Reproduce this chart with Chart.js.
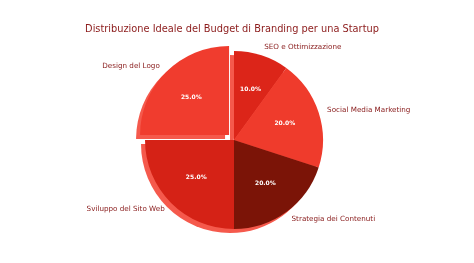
<!DOCTYPE html>
<html>
<head>
<meta charset="utf-8">
<script src="https://cdn.jsdelivr.net/npm/chart.js@4/dist/chart.umd.min.js"></script>
<style>
  html, body { margin: 0; padding: 0; background: #fff; }
  #wrap { width: 474px; height: 263px; position: relative; }
</style>
</head>
<body>
<div id="wrap"><canvas id="budgetChart"></canvas></div>
<script>
// Data (clockwise from 12 o'clock)
const categories = ['SEO e Ottimizzazione', 'Social Media Marketing', 'Strategia dei Contenuti', 'Sviluppo del Sito Web', 'Design del Logo'];
const shares = [10, 20, 20, 25, 25];
const sliceColors = ['#dc2519', '#ef3b2c', '#7b1407', '#d52216', '#f03c2e'];
const explode = [0, 0, 0, 0, 28];
const chartTitle = 'Distribuzione Ideale del Budget di Branding per una Startup';

const FONT = '"DejaVu Sans", sans-serif';

// Helper: where an arc really sits once its offset is applied
function arcCenter(arc) {
    const mid = (arc.startAngle + arc.endAngle) / 2;
    const off = (arc.options.offset || 0) / 4;
    return { x: arc.x + Math.cos(mid) * off, y: arc.y + Math.sin(mid) * off, mid: mid };
}

// Shadow below every slice
const shadowPlugin = {
    id: 'pieShadow',
    beforeDatasetsDraw(chart) {
        const ctx = chart.ctx;
        const arcs = chart.getDatasetMeta(0).data;
        ctx.save();
        ctx.fillStyle = '#f5594c';
        arcs.forEach(arc => {
            const c = arcCenter(arc);
            ctx.beginPath();
            ctx.moveTo(c.x - 4, c.y + 4);
            ctx.arc(c.x - 4, c.y + 4, arc.outerRadius, arc.startAngle, arc.endAngle);
            ctx.closePath();
            ctx.fill();
        });
        ctx.restore();
    }
};

// Title, category labels and percentages
const labelPlugin = {
    id: 'pieLabels',
    afterDatasetsDraw(chart) {
        const ctx = chart.ctx;
        const arcs = chart.getDatasetMeta(0).data;
        const total = shares.reduce((a, b) => a + b, 0);
        ctx.save();
        ctx.textBaseline = 'middle';

        ctx.fillStyle = '#8b1a1a';
        ctx.font = '9.8px ' + FONT;
        ctx.textAlign = 'center';
        ctx.fillText(chartTitle, 232, 29);

        arcs.forEach((arc, i) => {
            const c = arcCenter(arc);
            const r = arc.outerRadius;
            const cos = Math.cos(c.mid), sin = Math.sin(c.mid);

            ctx.fillStyle = '#8b2020';
            ctx.font = '7.2px ' + FONT;
            ctx.textAlign = cos >= 0 ? 'left' : 'right';
            ctx.fillText(categories[i], c.x + cos * r * 1.1, c.y + sin * r * 1.1);

            ctx.fillStyle = '#ffffff';
            ctx.font = 'bold 6px ' + FONT;
            ctx.textAlign = 'center';
            ctx.fillText((shares[i] / total * 100).toFixed(1) + '%', c.x + cos * r * 0.6, c.y + sin * r * 0.6);
        });
        ctx.restore();
    }
};

new Chart(document.getElementById('budgetChart').getContext('2d'), {
    type: 'pie',
    data: {
        labels: categories,
        datasets: [{
            data: shares,
            backgroundColor: sliceColors,
            borderWidth: 0,
            offset: explode
        }]
    },
    options: {
        responsive: true,
        maintainAspectRatio: false,
        animation: false,
        radius: 89,
        rotation: 0,
        layout: { padding: { left: 0, right: 6, top: 17, bottom: 0 } },
        plugins: {
            legend: { display: false },
            tooltip: { enabled: false },
            title: { display: false }
        }
    },
    plugins: [shadowPlugin, labelPlugin]
});
</script>
</body>
</html>
